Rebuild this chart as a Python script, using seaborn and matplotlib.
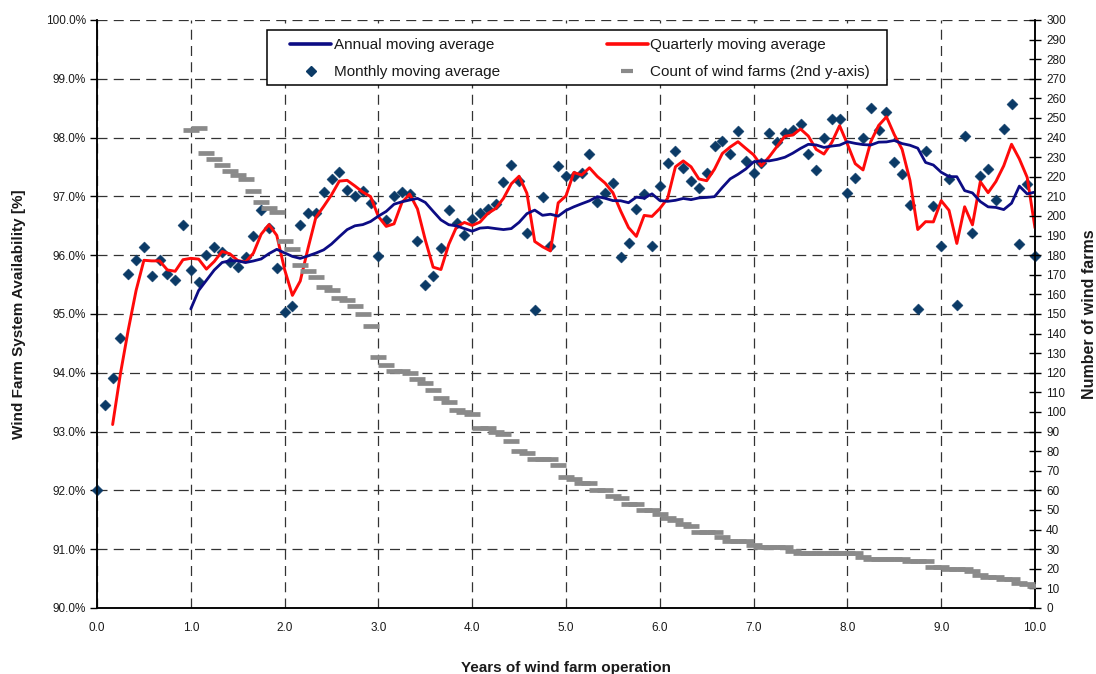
import numpy as np
import pandas as pd
import matplotlib
matplotlib.use("Agg")
import matplotlib.pyplot as plt
import seaborn as sns
from matplotlib.ticker import FuncFormatter
from matplotlib.lines import Line2D
from matplotlib.patches import Rectangle

# ---------------- data ----------------
month_index = list(range(121))          # months of operation, 0 .. 120

monthly_availability = [
    92.00, 93.45, 93.91, 94.60, 95.68, 95.92, 96.14, 95.65, 95.92, 95.68, 95.58, 96.51,
    95.75, 95.54, 96.00, 96.14, 96.05, 95.88, 95.80, 95.97, 96.33, 96.77, 96.46, 95.78,
    95.03, 95.14, 96.51, 96.71, 96.71, 97.07, 97.30, 97.41, 97.11, 97.01, 97.10, 96.88,
    95.99, 96.60, 97.01, 97.07, 97.04, 96.25, 95.49, 95.65, 96.13, 96.77, 96.55, 96.35,
    96.62, 96.72, 96.79, 96.87, 97.24, 97.53, 97.26, 96.37, 95.07, 96.99, 96.16, 97.52,
    97.35, 97.35, 97.39, 97.72, 96.91, 97.05, 97.23, 95.97, 96.21, 96.78, 97.04, 96.16,
    97.18, 97.56, 97.77, 97.48, 97.26, 97.15, 97.39, 97.85, 97.95, 97.72, 98.12, 97.61,
    97.39, 97.56, 98.07, 97.92, 98.08, 98.13, 98.23, 97.72, 97.45, 97.99, 98.31, 98.31,
    97.05, 97.31, 97.99, 98.50, 98.13, 98.43, 97.59, 97.38, 96.85, 95.08, 97.78, 96.84,
    96.16, 97.29, 95.15, 98.03, 96.37, 97.35, 97.47, 96.94, 98.15, 98.57, 96.19, 97.21,
    95.99,
]

count_month_index = list(range(12, 121))
wind_farm_count = [
    244, 245, 232, 229, 226, 223, 221, 219, 213, 207, 204, 202,
    187, 183, 175, 172, 169, 164, 162, 158, 157, 154, 150, 144,
    128, 124, 121, 121, 120, 117, 115, 111, 107, 105, 101, 100,
    99, 92, 92, 90, 89, 85, 80, 79, 76, 76, 76, 73,
    67, 66, 64, 64, 60, 60, 57, 56, 53, 53, 50, 50,
    48, 46, 45, 43, 42, 39, 39, 39, 36, 34, 34, 34,
    32, 31, 31, 31, 31, 29, 28, 28, 28, 28, 28, 28,
    28, 28, 26, 25, 25, 25, 25, 25, 24, 24, 24, 21,
    21, 20, 20, 20, 19, 17, 16, 16, 15, 15, 13, 12, 11,
]

x_ticks = list(range(0, 11))
left_ticks = list(range(90, 101))
right_ticks = list(range(0, 301, 10))

labels = {
    "annual": "Annual moving average",
    "quarterly": "Quarterly moving average",
    "monthly": "Monthly moving average",
    "count": "Count of wind farms (2nd y-axis)",
}

# ---------------- tables ----------------
df = pd.DataFrame({"years": np.array(month_index) / 12.0,
                   "monthly": monthly_availability})
df["quarterly"] = df["monthly"].rolling(3).mean()
df["annual"] = df["monthly"].rolling(12).mean().shift(1)
cnt = pd.DataFrame({"years": np.array(count_month_index) / 12.0,
                    "count": wind_farm_count})

# ---------------- style ----------------
sns.set_style("white")
plt.rcParams["font.family"] = ["Liberation Sans", "DejaVu Sans"]

NAVY = "#0c0c84"
RED = "#ff0a0a"
DIAMOND = "#0b3a66"
GRAY = "#8a8a8a"
TXT = "#1a1a1a"

W, H = 1096, 674
fig = plt.figure(figsize=(W / 100, H / 100), dpi=100)
L, R, T, B = 97, 1035, 20, 608
ax = fig.add_axes([L / W, 1 - B / H, (R - L) / W, (B - T) / H])
ax2 = ax.twinx()

# primary axis marks
sns.scatterplot(data=df, x="years", y="monthly", marker="D", s=32,
                color=DIAMOND, edgecolor=DIAMOND, linewidth=0.3,
                ax=ax, zorder=3, clip_on=False, legend=False)
sns.lineplot(data=df, x="years", y="quarterly", color=RED, linewidth=2.1,
             ax=ax, zorder=4, legend=False)
sns.lineplot(data=df, x="years", y="annual", color=NAVY, linewidth=2.0,
             ax=ax, zorder=5, legend=False)

# secondary axis marks
sns.scatterplot(data=cnt, x="years", y="count", marker="_", s=130,
                color=GRAY, linewidth=3.4, ax=ax2, zorder=3, legend=False)

# axes limits / ticks
ax.set_xlim(0, 10)
ax.set_ylim(90, 100)
ax2.set_ylim(0, 300)
ax.set_xticks(x_ticks)
ax.set_yticks(left_ticks)
ax2.set_yticks(right_ticks)
ax.xaxis.set_major_formatter(FuncFormatter(lambda v, p: f"{v:.1f}"))
ax.yaxis.set_major_formatter(FuncFormatter(lambda v, p: f"{v:.1f}%"))

ax.grid(True, which="major", color="#333333", linewidth=0.9,
        linestyle=(0, (8, 5)))
ax.set_axisbelow(True)

for a in (ax, ax2):
    a.spines["top"].set_visible(False)
    for s in ("left", "right", "bottom"):
        a.spines[s].set_color("black")
        a.spines[s].set_linewidth(1.1)

ax.tick_params(axis="y", direction="out", length=5, width=1, colors="black",
               labelsize=8.5, labelcolor=TXT, pad=3)
ax.tick_params(axis="x", direction="out", length=4, width=1, colors="black",
               labelsize=8.5, labelcolor=TXT, pad=6)
ax2.tick_params(axis="y", direction="inout", length=8, width=1, colors="black",
                labelsize=8.5, labelcolor=TXT, pad=4)

ax.set_xlabel("Years of wind farm operation", fontsize=11, fontweight="bold",
              color=TXT)
ax.set_ylabel("Wind Farm System Availability [%]", fontsize=11,
              fontweight="bold", color=TXT)
ax2.set_ylabel("Number of wind farms", fontsize=11.5, fontweight="bold",
               color=TXT, rotation=90)
ax.xaxis.set_label_coords(0.5, -(661 - B) / (B - T))
ax.yaxis.set_label_coords(-(L - 19) / (R - L), 0.5)
ax.yaxis.label.set_va("center")
ax2.yaxis.set_label_coords((1090 - L) / (R - L), 0.5)
ax2.yaxis.label.set_va("center")

# legend with a square frame
frame = Rectangle((267 / W, 1 - 85 / H), (887 - 267) / W, (85 - 30) / H,
                  transform=fig.transFigure, facecolor="white",
                  edgecolor="black", linewidth=1.1, zorder=1)
fig.patches.append(frame)

handles = [
    Line2D([], [], color=NAVY, linewidth=2.6),
    Line2D([], [], marker="D", linestyle="", color=DIAMOND, markersize=5),
    Line2D([], [], color=RED, linewidth=2.6),
    Line2D([], [], marker="_", linestyle="", color=GRAY, markersize=8,
           markeredgewidth=3.0),
]
leg_labels = [labels["annual"], labels["monthly"], labels["quarterly"],
              labels["count"]]
leg = fig.legend(handles, leg_labels, loc="upper left",
                 bbox_to_anchor=(290 / W, 1 - 38 / H), ncol=2, frameon=False,
                 fontsize=11, handlelength=2.7, handletextpad=0.15,
                 columnspacing=7.0, labelspacing=0.85, borderpad=0,
                 borderaxespad=0)
leg.set_zorder(6)
for t in leg.get_texts():
    t.set_color(TXT)

fig.savefig("out.png", dpi=100)
